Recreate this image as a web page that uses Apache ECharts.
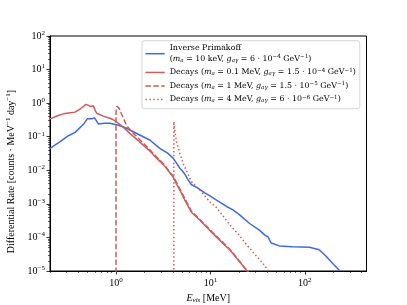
<!DOCTYPE html>
<html>
<head>
<meta charset="utf-8">
<script src="https://cdn.jsdelivr.net/npm/echarts@6/dist/echarts.min.js"></script>
<style>
html,body{margin:0;padding:0;background:#fff;}
#chart{width:407px;height:305px;}
</style>
</head>
<body>
<div id="chart"></div>
<script>
// ---- data ----
const primakoffE = [0.2, 0.256, 0.313, 0.369, 0.452, 0.497, 0.554, 0.59, 0.65, 0.75, 0.864, 1.06, 1.3, 1.4, 1.94, 2.28, 2.91, 3.5, 4.03, 4.4, 4.74, 5.0, 5.35, 5.8, 6.3, 7.0, 7.7, 8.8, 10, 11.6, 14.7, 17.3, 20.4, 26, 33, 38, 40.6, 41.5, 44, 46, 53.8, 74, 112, 142, 167, 196, 232];
const primakoffR = [0.045, 0.071, 0.107, 0.135, 0.234, 0.34, 0.34, 0.37, 0.24, 0.25, 0.25, 0.22, 0.178, 0.158, 0.1, 0.08, 0.045, 0.033, 0.023, 0.016, 0.0115, 0.0098, 0.0078, 0.0052, 0.0037, 0.0032, 0.0027, 0.0021, 0.0017, 0.0013, 0.00085, 0.00066, 0.00047, 0.00026, 0.000165, 0.000115, 0.000105, 0.000112, 0.000068, 0.000062, 0.000056, 0.000053, 0.000051, 0.000043, 0.000028, 0.000017, 0.0000105];

const decay01E = [0.2, 0.24, 0.278, 0.33, 0.369, 0.42, 0.482, 0.51, 0.54, 0.576, 0.6, 0.625, 0.734, 0.86, 0.94, 1.06, 1.2, 1.4, 1.65, 1.94, 2.28, 2.69, 3.16, 3.5, 4.03, 4.4, 4.74, 5.35, 6.05, 6.3, 7.7, 10.6, 13, 16, 20, 24, 26];
const decay01R = [0.34, 0.42, 0.48, 0.52, 0.54, 0.68, 0.92, 0.86, 0.79, 0.84, 0.62, 0.5, 0.41, 0.355, 0.32, 0.25, 0.19, 0.126, 0.085, 0.056, 0.038, 0.023, 0.015, 0.0105, 0.0063, 0.0038, 0.0026, 0.0013, 0.0007, 0.00056, 0.00033, 0.000132, 0.000075, 0.000043, 0.00002, 0.0000107, 0.000008];

const decay1E = [1.0, 1.0, 1.02, 1.04, 1.08, 1.15, 1.3, 1.52, 1.8, 2.28, 2.69, 3.16, 4.03, 4.74, 6.3, 7.7, 10.6, 16, 24, 26];
const decay1R = [0.000001, 0.5, 0.8, 0.88, 0.7, 0.46, 0.21, 0.128, 0.08, 0.041, 0.025, 0.016, 0.0067, 0.0028, 0.0006, 0.00035, 0.00014, 0.000045, 0.000011, 0.0000085];

const decay4E = [4.1, 4.1, 4.15, 4.37, 4.74, 5.13, 5.6, 6.3, 7.0, 7.7, 10, 11.6, 16, 20, 24, 30, 36, 40.6, 44];
const decay4R = [0.000001, 0.28, 0.2, 0.071, 0.032, 0.016, 0.0095, 0.0046, 0.0034, 0.0026, 0.0011, 0.00078, 0.00024, 0.00012, 0.000062, 0.00003, 0.000017, 0.0000107, 0.000007];

const xMajorTicks = [1, 10, 100];
const xMinorTicks = [0.2,0.3,0.4,0.5,0.6,0.7,0.8,0.9, 2,3,4,5,6,7,8,9, 20,30,40,50,60,70,80,90, 200,300,400];
const yMajorTicks = [1e-5, 1e-4, 1e-3, 1e-2, 1e-1, 1, 10, 100];
const yMinorTicks = [];
for (let e = -5; e <= 1; e++) for (let m = 2; m <= 9; m++) yMinorTicks.push(+(m * Math.pow(10, e)).toPrecision(3));

const seriesNames = ['Inverse Primakoff', 'Decays 0.1', 'Decays 1', 'Decays 4'];
// ---------------------------------------

const zip = (a, b) => a.map((v, i) => [v, b[i]]);
const FONT = 'Liberation Serif';
const LFONT = 'DejaVu Serif';
const BLUE = '#4169E1', RED = '#CD5C5C';
const LW = 1.5;

function expLabel(v) {
  const e = Math.round(Math.log10(v));
  return '{b|10}{s|' + String(e).replace('-', '\u2212') + '}';
}
const axisRich = {
  b: {fontFamily: FONT, fontSize: 10, color: '#000'},
  s: {fontFamily: FONT, fontSize: 7, color: '#000', padding: [0, 0, 6, 0]}
};

const lr = {
  r: {fontFamily: LFONT, fontSize: 7.9, color: '#000', lineHeight: 10.5},
  i: {fontFamily: LFONT, fontSize: 7.9, color: '#000', fontStyle: 'italic', lineHeight: 10.5},
  sb: {fontFamily: LFONT, fontSize: 5.6, color: '#000', fontStyle: 'italic', lineHeight: 10.5, padding: [3, 0, 0, 0]},
  sp: {fontFamily: LFONT, fontSize: 5.6, color: '#000', lineHeight: 6, padding: [0, 0, 4.5, 0]}
};
const legendText = {
  'Inverse Primakoff': '{r|Inverse Primakoff}\n{r|(}{i|m}{sb|a}{r| = 10 keV, }{i|g}{sb|aγ}{r| = 6 · 10}{sp|−4}{r| GeV}{sp|−1}{r|)}',
  'Decays 0.1': '{r|Decays (}{i|m}{sb|a}{r| = 0.1 MeV, }{i|g}{sb|aγ}{r| = 1.5 · 10}{sp|−4}{r| GeV}{sp|−1}{r|)}',
  'Decays 1': '{r|Decays (}{i|m}{sb|a}{r| = 1 MeV, }{i|g}{sb|aγ}{r| = 1.5 · 10}{sp|−5}{r| GeV}{sp|−1}{r|)}',
  'Decays 4': '{r|Decays (}{i|m}{sb|a}{r| = 4 MeV, }{i|g}{sb|aγ}{r| = 6 · 10}{sp|−6}{r| GeV}{sp|−1}{r|)}'
};

const chart = echarts.init(document.getElementById('chart'), null, {renderer: 'canvas'});
const gridBox = {left: 50, top: 36, width: 316.5, height: 235};

chart.setOption({
  animation: false,
  backgroundColor: '#fff',
  grid: Object.assign({show: true, borderColor: '#000', borderWidth: 1, containLabel: false, outerBoundsMode: 'none'}, gridBox),
  xAxis: [{
    type: 'log', min: 0.2, max: 450, position: 'bottom',
    axisLine: {show: true, lineStyle: {color: '#000', width: 1}},
    axisTick: {show: true, length: 3.5, lineStyle: {color: '#000', width: 0.8}, customValues: xMajorTicks},
    axisLabel: {show: true, customValues: xMajorTicks, formatter: expLabel, rich: axisRich, margin: 6},
    splitLine: {show: false}, minorTick: {show: false},
    name: '{i|E}{sb|vis}{r| [MeV]}', nameLocation: 'middle', nameGap: 18,
    nameTextStyle: {rich: {
      r: {fontFamily: FONT, fontSize: 10, color: '#000'},
      i: {fontFamily: FONT, fontSize: 10, color: '#000', fontStyle: 'italic'},
      sb: {fontFamily: FONT, fontSize: 7, color: '#000', fontStyle: 'italic', padding: [4, 0, 0, 0]}
    }}
  }, {
    type: 'log', min: 0.2, max: 450, position: 'bottom',
    axisLine: {show: false},
    axisTick: {show: true, length: 2, lineStyle: {color: '#000', width: 0.6}, customValues: xMinorTicks},
    axisLabel: {show: false}, splitLine: {show: false}
  }],
  yAxis: [{
    type: 'log', min: 1e-5, max: 100, position: 'left',
    axisLine: {show: true, lineStyle: {color: '#000', width: 1}},
    axisTick: {show: true, length: 3.5, lineStyle: {color: '#000', width: 0.8}, customValues: yMajorTicks},
    axisLabel: {show: true, customValues: yMajorTicks, formatter: expLabel, rich: axisRich, margin: 5},
    splitLine: {show: false}, minorTick: {show: false},
    name: '{r|Differential Rate [counts · MeV}{s|−1}{r| day}{s|−1}{r|]}', nameLocation: 'middle', nameGap: 22, nameRotate: 90,
    nameTextStyle: {padding: [0, 36, 0, 0], rich: {
      r: {fontFamily: FONT, fontSize: 10, color: '#000'},
      s: {fontFamily: FONT, fontSize: 7, color: '#000', padding: [0, 0, 6, 0]}
    }}
  }, {
    type: 'log', min: 1e-5, max: 100, position: 'left', offset: 0,
    axisLine: {show: false},
    axisTick: {show: true, length: 2, lineStyle: {color: '#000', width: 0.6}, customValues: yMinorTicks},
    axisLabel: {show: false}, splitLine: {show: false}
  }],
  legend: {
    orient: 'vertical', left: 142, top: 40.7,
    padding: [2.5, 4, 4, 2.7], itemGap: 3, itemWidth: 19.3, itemHeight: 10.5,
    backgroundColor: 'rgba(255,255,255,0.8)', borderColor: '#d6d6d6', borderWidth: 1, borderRadius: 2.5,
    selectedMode: false,
    data: seriesNames,
    formatter: name => legendText[name],
    itemStyle: {color: 'rgba(0,0,0,0)', borderWidth: 0, opacity: 0},
    lineStyle: {width: LW},
    textStyle: {rich: lr, lineHeight: 10.5}
  },
  series: [
    {name: seriesNames[0], type: 'line', data: zip(primakoffE, primakoffR), showSymbol: false, symbol: 'none', clip: true,
     color: BLUE, lineStyle: {color: BLUE, width: LW}},
    {name: seriesNames[1], type: 'line', data: zip(decay01E, decay01R), showSymbol: false, symbol: 'none', clip: true,
     color: RED, lineStyle: {color: RED, width: LW}},
    {name: seriesNames[2], type: 'line', data: zip(decay1E, decay1R), showSymbol: false, symbol: 'none', clip: true,
     color: RED, lineStyle: {color: RED, width: LW, type: [5.5, 2.4]}},
    {name: seriesNames[3], type: 'line', data: zip(decay4E, decay4R), showSymbol: false, symbol: 'none', clip: true,
     color: RED, lineStyle: {color: RED, width: LW, type: [1.5, 2.4]}}
  ]
});
</script>
</body>
</html>
